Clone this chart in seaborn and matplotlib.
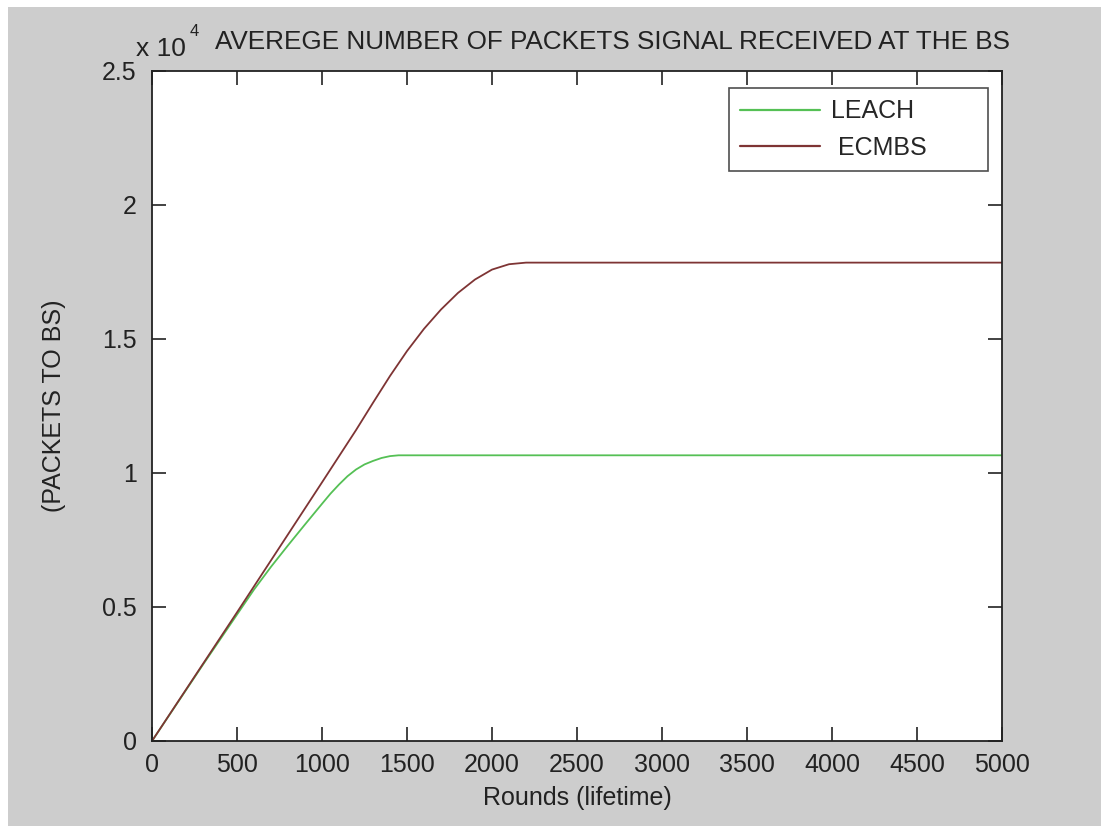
import matplotlib
matplotlib.use("Agg")
import matplotlib.pyplot as plt
import matplotlib.patches as mpatches
from matplotlib.ticker import FuncFormatter
import seaborn as sns
import pandas as pd

# values
leach_rounds = [0, 300, 600, 700, 800, 900, 1000, 1050, 1100, 1150, 1200, 1250, 1300, 1350, 1400, 1450, 5000]
leach_packets = [0, 2850, 5650, 6500, 7300, 8080, 8850, 9230, 9570, 9880, 10130, 10320, 10450, 10560, 10630, 10660, 10660]

ecmbs_rounds = [0, 500, 1000, 1200, 1300, 1400, 1500, 1600, 1700, 1800, 1900, 2000, 2100, 2200, 5000]
ecmbs_packets = [0, 4800, 9650, 11600, 12620, 13620, 14550, 15380, 16100, 16720, 17220, 17590, 17790, 17850, 17850]

x_ticks = [0, 500, 1000, 1500, 2000, 2500, 3000, 3500, 4000, 4500, 5000]
y_ticks = [0, 5000, 10000, 15000, 20000, 25000]

df = pd.concat([
    pd.DataFrame({"Rounds": leach_rounds, "Packets": leach_packets, "Protocol": "LEACH"}),
    pd.DataFrame({"Rounds": ecmbs_rounds, "Packets": ecmbs_packets, "Protocol": " ECMBS"}),
])

sns.set_theme(style="ticks")
plt.rcParams["font.family"] = ["Liberation Sans", "DejaVu Sans"]

ink = "#222222"
gray = "#cdcdcd"
fig = plt.figure(figsize=(11.01, 8.26), dpi=100, facecolor="white")
# gray window area, leaving the thin white strip at top/left
fig.patches.append(mpatches.Rectangle((8 / 1101, 0), 1, 1 - 7 / 826,
                                      transform=fig.transFigure, facecolor=gray,
                                      edgecolor="none", zorder=-10))

ax = fig.add_axes([152 / 1101, 1 - 741 / 826, 850 / 1101, 670 / 826])
ax.set_facecolor("white")

sns.lineplot(data=df, x="Rounds", y="Packets", hue="Protocol",
             palette={"LEACH": "#55c055", " ECMBS": "#7e3434"},
             linewidth=1.3, ax=ax)

ax.set_xlim(0, 5000)
ax.set_ylim(0, 25000)
ax.set_xticks(x_ticks)
ax.set_yticks(y_ticks)
ax.yaxis.set_major_formatter(FuncFormatter(lambda v, p: "%g" % (v / 1e4)))
ax.tick_params(direction="in", length=10, width=1.2, labelsize=18,
               top=True, right=True, colors=ink)
ax.tick_params(axis="x", pad=9)
ax.tick_params(axis="y", pad=11)
for s in ax.spines.values():
    s.set_linewidth(1.3)
    s.set_color(ink)

ax.set_xlabel("Rounds (lifetime)", fontsize=18, labelpad=6, color=ink)
ax.set_ylabel("(PACKETS TO BS)", fontsize=18, labelpad=26, color=ink)

ax.text(-0.019, 1.022, "x 10", transform=ax.transAxes, fontsize=19,
        ha="left", va="baseline", color=ink)
ax.text(0.044, 1.052, "4", transform=ax.transAxes, fontsize=12,
        ha="left", va="baseline", color=ink)
ax.text(0.074, 1.033, "AVEREGE NUMBER OF PACKETS SIGNAL RECEIVED AT THE BS",
        transform=ax.transAxes, fontsize=18.85, ha="left", va="baseline", color=ink)

leg = ax.legend(loc="upper left", mode="expand", fontsize=18, frameon=True,
                fancybox=False, edgecolor=ink, handlelength=3.2,
                handletextpad=0.44, borderpad=0.45, labelspacing=0.5,
                borderaxespad=0, bbox_to_anchor=(0.679, 0.8525, 0.3045, 0.122))
leg.get_frame().set_linewidth(1.2)
for line in leg.get_lines():
    line.set_linewidth(1.6)

fig.savefig("out.png", dpi=100, facecolor=fig.get_facecolor())
